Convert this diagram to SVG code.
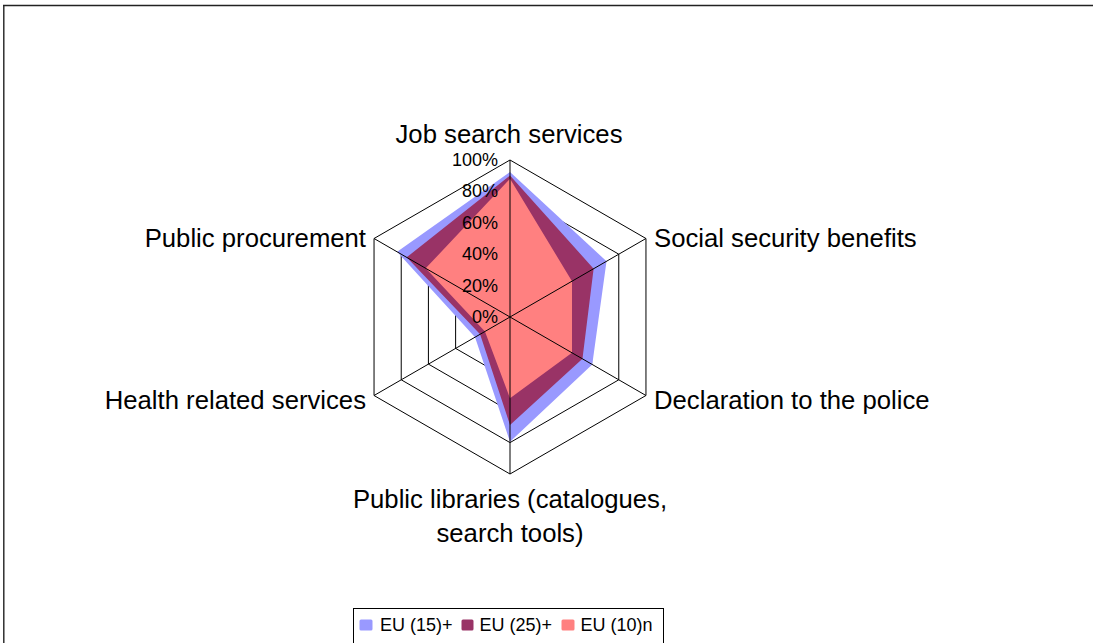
<svg xmlns="http://www.w3.org/2000/svg" width="1093" height="643" viewBox="0 0 1093 643">
<style>
.lbl{font-family:"Liberation Sans",Arial,sans-serif;font-size:25.7px;fill:#000}
.tick{font-family:"Liberation Sans",Arial,sans-serif;font-size:18px;fill:#000;text-anchor:end}
.leg{font-family:"Liberation Sans",Arial,sans-serif;font-size:18px;fill:#000}
.ring{fill:none;stroke:#000;stroke-width:1}
.spoke{stroke:#000;stroke-width:1}
</style>
<rect x="0" y="0" width="1093" height="643" fill="#fff"/>
<g id="frame">
<line x1="3" y1="5.5" x2="1093" y2="5.5" stroke="#222" stroke-width="1.4"/>
<line x1="3.8" y1="5" x2="3.8" y2="643" stroke="#222" stroke-width="1.4"/>
</g>
<g id="grid">
<polygon class="ring" points="510,160 645.96,238.5 645.96,395.5 510,474 374.04,395.5 374.04,238.5"/>
<polygon class="ring" points="510,191.4 618.77,254.2 618.77,379.8 510,442.6 401.23,379.8 401.23,254.2"/>
<polygon class="ring" points="510,222.8 591.58,269.9 591.58,364.1 510,411.2 428.42,364.1 428.42,269.9"/>
<polygon class="ring" points="510,254.2 564.39,285.6 564.39,348.4 510,379.8 455.61,348.4 455.61,285.6"/>
<polygon class="ring" points="510,285.6 537.19,301.3 537.19,332.7 510,348.4 482.81,332.7 482.81,301.3"/>
</g>
<g id="series-eu15">
<polygon fill="#9999FF" points="510,171.93 606.53,261.27 592.26,364.49 510,441.66 475.06,337.17 397.15,251.84"/>
</g>
<g id="series-eu25">
<polygon fill="#993366" points="510,175.39 593.62,268.72 582.47,358.84 510,425.02 480.09,334.27 406.67,257.34"/>
</g>
<g id="series-eu10">
<polygon fill="#FF8080" points="510,178.84 572,281.2 572,352.8 510,398.33 484.98,331.44 425.7,268.33"/>
</g>
<g id="connectors">
<line class="spoke" x1="510" y1="317" x2="510" y2="160"/>
<line class="spoke" x1="510" y1="317" x2="645.96" y2="238.5"/>
<line class="spoke" x1="510" y1="317" x2="645.96" y2="395.5"/>
<line class="spoke" x1="510" y1="317" x2="510" y2="474"/>
<line class="spoke" x1="510" y1="317" x2="374.04" y2="395.5"/>
<line class="spoke" x1="510" y1="317" x2="374.04" y2="238.5"/>
</g>
<g id="ticks">
<text class="tick" x="498" y="166">100%</text>
<text class="tick" x="498" y="197.4">80%</text>
<text class="tick" x="498" y="228.8">60%</text>
<text class="tick" x="498" y="260.2">40%</text>
<text class="tick" x="498" y="291.6">20%</text>
<text class="tick" x="498" y="323">0%</text>
</g>
<g id="node-job"><text class="lbl" x="509" y="143" text-anchor="middle">Job search services</text></g>
<g id="node-social"><text class="lbl" x="654" y="247">Social security benefits</text></g>
<g id="node-police"><text class="lbl" x="654" y="409">Declaration to the police</text></g>
<g id="node-libraries"><text class="lbl" x="510" y="508" text-anchor="middle">Public libraries (catalogues,</text><text class="lbl" x="510" y="542" text-anchor="middle">search tools)</text></g>
<g id="node-health"><text class="lbl" x="366" y="409" text-anchor="end">Health related services</text></g>
<g id="node-procurement"><text class="lbl" x="366" y="247" text-anchor="end">Public procurement</text></g>
<g id="legend">
<rect x="353.5" y="608.5" width="310" height="40" fill="#fff" stroke="#000" stroke-width="1"/>
<rect x="359.5" y="619.5" width="13" height="11" rx="1.5" fill="#9999FF"/>
<text class="leg" x="380" y="631">EU (15)+</text>
<rect x="461.5" y="619.5" width="12" height="11" rx="1.5" fill="#993366"/>
<text class="leg" x="479.5" y="631">EU (25)+</text>
<rect x="561.5" y="619.5" width="13" height="11" rx="1.5" fill="#FF8080"/>
<text class="leg" x="580.5" y="631">EU (10)n</text>
</g>
</svg>
